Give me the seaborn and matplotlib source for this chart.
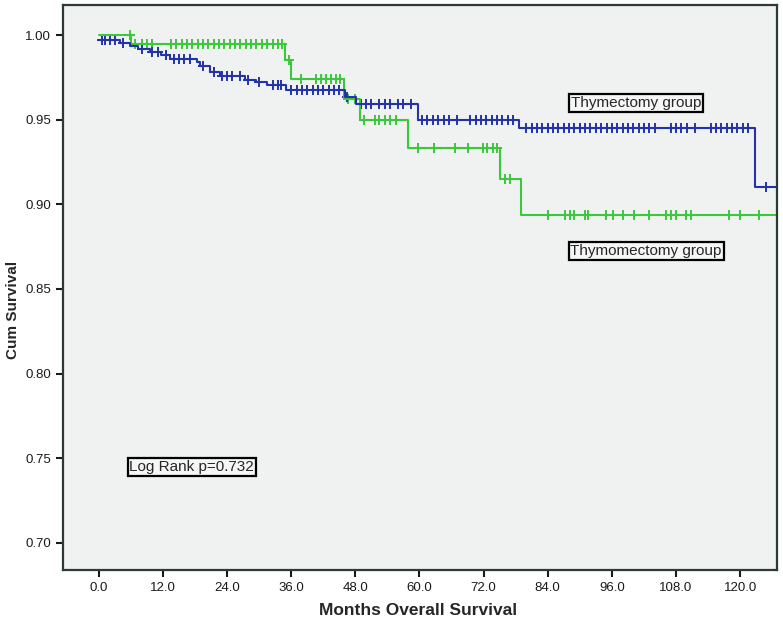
import numpy as np
import pandas as pd
import matplotlib
matplotlib.use("Agg")
import matplotlib.pyplot as plt
import seaborn as sns

# ---- data ----
max_followup = 127.0

thymectomy_times = [0, 3.9, 5.8, 7.3, 9.5, 11.7, 13.3, 18.3, 18.9, 20.8, 22.6, 27.3,
                    29.5, 31.4, 35.1, 46.0, 48.2, 59.7, 78.7, 122.8]
thymectomy_surv = [0.997, 0.995, 0.9935, 0.992, 0.990, 0.988, 0.986, 0.984, 0.982,
                   0.978, 0.976, 0.9735, 0.9725, 0.9705, 0.9675, 0.9635, 0.9595,
                   0.950, 0.945, 0.910]
thymectomy_censor = [0.5, 1.2, 2.0, 3.0, 4.5, 8.0, 10.0, 11.0, 12.5, 14.0, 15.0, 16.0,
                     17.0, 19.5, 21.5, 23.0, 24.0, 25.0, 26.5, 28.0, 30.0, 32.5, 33.5,
                     34.0, 36.0, 37.0, 38.0, 39.0, 40.0, 41.0, 42.0, 43.0, 44.0, 45.0,
                     46.5, 49.0, 50.0, 51.0, 52.5, 53.5, 54.5, 56.0, 57.0, 58.5,
                     60.5, 61.5, 62.5, 63.5, 64.5, 65.5, 67.0, 69.5, 70.5, 71.5, 72.5,
                     73.5, 74.5, 75.5, 76.5, 77.5,
                     80.0, 81.0, 82.0, 83.0, 84.0, 85.0, 86.0, 87.0, 88.0, 89.0, 90.0,
                     91.0, 92.0, 93.0, 94.0, 95.0, 96.0, 97.0, 98.0, 99.0, 100.0, 101.0,
                     102.0, 103.0, 104.0, 107.0, 108.0, 109.0, 110.0, 111.5,
                     114.5, 115.5, 116.5, 117.5, 118.5, 119.5, 120.5, 121.5, 124.9]

thymomectomy_times = [0, 6.1, 34.8, 36.0, 45.8, 48.8, 57.8, 75.1, 79.0]
thymomectomy_surv = [1.000, 0.9945, 0.985, 0.974, 0.962, 0.950, 0.9335, 0.915, 0.894]
thymomectomy_censor = [5.8, 6.8, 8.0, 9.0, 10.0, 13.5, 14.5, 15.5, 16.5, 17.5, 18.5,
                       19.5, 20.5, 21.5, 22.5, 23.5, 24.5, 25.5, 26.5, 27.5, 28.5,
                       29.5, 30.5, 31.5, 32.5, 33.5, 34.2, 35.5,
                       37.9, 40.7, 41.6, 42.5, 43.5, 44.4, 45.1, 46.6, 47.9,
                       49.7, 51.6, 52.5, 53.5, 54.4, 55.7,
                       59.7, 62.8, 66.6, 69.0, 71.8, 72.7, 73.7, 74.6, 76.0, 77.0,
                       84.0, 87.2, 88.1, 89.0, 90.9, 91.5, 94.9, 96.2, 98.0, 100.2,
                       103.0, 106.2, 107.1, 108.0, 109.9, 110.8, 118.0, 119.9, 123.6]

x_ticks = [0, 12, 24, 36, 48, 60, 72, 84, 96, 108, 120]
y_ticks = [0.70, 0.75, 0.80, 0.85, 0.90, 0.95, 1.00]

blue = "#2433A8"
green = "#3CC83C"

sns.set_style("white", {"axes.facecolor": "#F0F1F1"})
plt.rcParams["font.family"] = ["Liberation Sans", "DejaVu Sans"]

fig = plt.figure(figsize=(7.83, 6.32), dpi=100)
ax = fig.add_axes([0.0805, 0.098, 0.9118, 0.894])


def step_frame(times, surv):
    t = list(times) + [max_followup]
    s = list(surv) + [surv[-1]]
    return pd.DataFrame({"t": t, "s": s})


def censor_frame(times, surv, cens):
    times = np.asarray(times)
    surv = np.asarray(surv)
    idx = np.searchsorted(times, np.asarray(cens), side="right") - 1
    return pd.DataFrame({"t": cens, "s": surv[idx]})


for times, surv, cens, col in [
    (thymomectomy_times, thymomectomy_surv, thymomectomy_censor, green),
    (thymectomy_times, thymectomy_surv, thymectomy_censor, blue),
]:
    sns.lineplot(data=step_frame(times, surv), x="t", y="s", ax=ax, color=col,
                 drawstyle="steps-post", lw=1.5, sort=False, estimator=None)
    sns.scatterplot(data=censor_frame(times, surv, cens), x="t", y="s", ax=ax,
                    marker="+", s=45, color=col, linewidth=1.4)

ax.set_xlim(-6.7, 126.9)
ax.set_ylim(0.684, 1.0177)
ax.set_xticks(x_ticks)
ax.set_xticklabels([f"{v:.1f}" for v in x_ticks])
ax.set_yticks(y_ticks)
ax.set_yticklabels([f"{v:.2f}" for v in y_ticks])
ax.tick_params(axis="both", direction="out", length=5, width=1.5, labelsize=9.5,
               colors="#1A1A1A", bottom=True, left=True)
for sp in ax.spines.values():
    sp.set_visible(True)
    sp.set_color("#2A3A3A")
    sp.set_linewidth(1.6)

ax.set_xlabel("Months Overall Survival", fontsize=12.5, fontweight="bold")
ax.set_ylabel("Cum Survival", fontsize=11, fontweight="bold")
ax.xaxis.set_label_coords(0.497, -0.058)
ax.yaxis.set_label_coords(-0.060, 0.46)

box = dict(boxstyle="square,pad=0.12", fc="#F6F6F6", ec="black", lw=1.6)
ax.text(100.6, 0.960, "Thymectomy group", fontsize=11, ha="center", va="center", bbox=box)
ax.text(102.4, 0.8725, "Thymomectomy group", fontsize=11, ha="center", va="center", bbox=box)
ax.text(17.4, 0.745, "Log Rank p=0.732", fontsize=11, ha="center", va="center", bbox=box)

fig.savefig("out.png", dpi=100, facecolor="white")
